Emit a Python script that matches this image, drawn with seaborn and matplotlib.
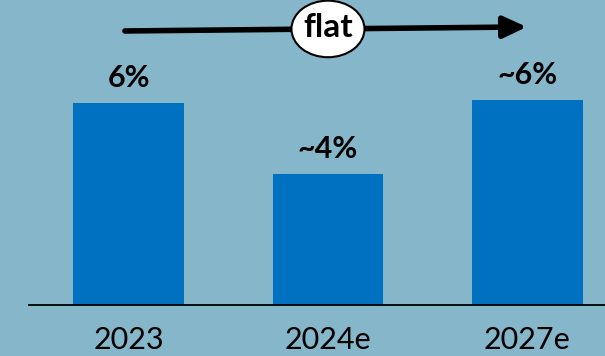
import matplotlib
matplotlib.use("Agg")
import matplotlib.pyplot as plt
import seaborn as sns
import pandas as pd
from matplotlib.patches import Ellipse, FancyArrowPatch

categories = ["2023", "2024e", "2027e"]
values = [6.0, 3.9, 6.1]
labels = ["6%", "~4%", "~6%"]
trend_text = "flat"

BG = "#85b6c9"
BAR = "#0070c0"

sns.set_theme(style="white")
plt.rcParams["font.family"] = ["Lato", "DejaVu Sans"]

df = pd.DataFrame({"cat": categories, "val": values})

fig = plt.figure(figsize=(6.05, 3.56), dpi=100, facecolor=BG)
ax = fig.add_axes([29 / 605, 51 / 356, 576 / 605, 305 / 356])
ax.set_facecolor(BG)

sns.barplot(data=df, x="cat", y="val", color=BAR, saturation=1, width=0.556, ax=ax)
for p in ax.patches:
    p.set_edgecolor("none")

ax.set_xlim(-0.499, 2.389)
ax.set_ylim(0, 9.06)
ax.set_xlabel("")
ax.set_ylabel("")
ax.set_yticks([])
for s in ["top", "right", "left"]:
    ax.spines[s].set_visible(False)
ax.spines["bottom"].set_color("black")
ax.spines["bottom"].set_linewidth(1.3)
ax.tick_params(axis="x", length=0, pad=15, labelsize=22, labelcolor="black")

for i, (v, lab) in enumerate(zip(values, labels)):
    ax.annotate(lab, (i, v), xytext=(0, 11.5), textcoords="offset points",
                ha="center", va="baseline", fontsize=22, fontweight="bold", color="black")

# trend arrow from first to last category
y_top = 8.2
arrow = FancyArrowPatch((-0.018, y_top - 0.06), (1.997, y_top + 0.06),
                        arrowstyle="-|>,head_length=1.4,head_width=0.65",
                        mutation_scale=10, lw=4, color="black",
                        shrinkA=0, shrinkB=0, capstyle="round", zorder=5)
ax.add_patch(arrow)
ell = Ellipse((1.0, y_top), 0.366, 1.68, facecolor="white", edgecolor="black",
              lw=1.5, zorder=6, clip_on=False)
ax.add_patch(ell)
ax.text(1.0, y_top + 0.05, trend_text, ha="center", va="center", fontsize=24,
        fontweight="bold", color="black", zorder=7)

fig.savefig("out.png", dpi=100, facecolor=BG)
